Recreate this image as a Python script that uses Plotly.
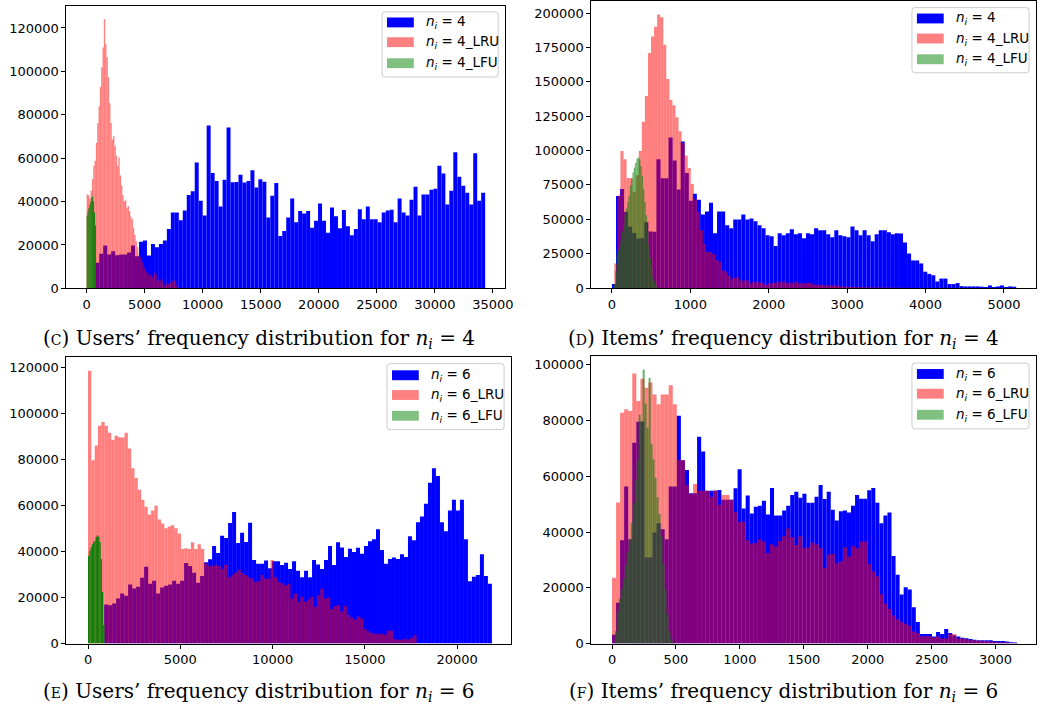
import numpy as np
import plotly.graph_objects as go

W, H = 1044, 719

# ---------------- (C) Users, n_i = 4 ----------------
c_user_range = [744, 34333]
c_user = [11800, 15900, 19800, 15600, 17100, 15300, 15600, 15600, 16500, 19800,
          14850, 21500, 22100, 15150, 20450, 18900, 20450, 22100, 27300, 35000,
          35000, 31400, 35900, 43000, 44700, 58000, 40400, 33600, 75000, 53200,
          49500, 37700, 50000, 74100, 48900, 49000, 52300, 48800, 49500, 54400,
          46500, 50300, 49100, 32700, 42700, 48600, 24100, 26400, 32700, 41400,
          30500, 35600, 34500, 35600, 27900, 31100, 39100, 31100, 25600, 37300,
          33200, 27700, 36100, 28600, 24500, 27300, 36500, 31800, 37700, 31800,
          31800, 30500, 35000, 35900, 36200, 30500, 41400, 35000, 33600, 40800,
          46800, 33600, 43200, 43200, 45500, 45900, 56500, 52900, 38600, 45000,
          62700, 51400, 47300, 44100, 38600, 62300, 40400, 44100]
c_lru_range = [0, 7870]
c_lru = [43200, 42900, 41400, 45100, 50400, 56500, 58800, 67100, 76200, 83800,
         92900, 101900, 111000, 124000, 112600, 106500, 97400, 85300, 76200, 68600,
         70200, 65600, 61100, 56500, 60300, 52000, 47400, 42900, 40200, 40600,
         37100, 38000, 35600, 33000, 32000, 27700, 24700, 21700, 19000, 15600,
         14400, 12800, 11800, 9500, 8000, 7700, 6500, 5700, 6500, 5000,
         5700, 7300, 6500, 4200, 3500, 4200, 2700, 3500, 1200, 1500,
         2400, 1800, 2700, 2400, 3300, 4200, 3500, 1800, 500]
c_lfu_range = [0, 800]
c_lfu = [33500, 35500, 37000, 38500, 40000, 41800, 42400, 40000, 35000, 29000]

# ---------------- (D) Items, n_i = 4 ----------------
d_item_range = [0, 5156]
d_item = [2900, 66900, 72100, 55400, 44700, 40000, 36000, 36300, 47800, 41100,
          41000, 93600, 79800, 79800, 109400, 92700, 71600, 106500, 83600, 63500,
          68500, 64200, 53500, 55600, 62100, 39900, 55600, 55600, 45600, 43500,
          49900, 49900, 53500, 49900, 50600, 48500, 45600, 43500, 38400, 37700,
          30600, 39900, 38400, 39900, 42800, 39200, 39900, 36300, 39900, 39200,
          43500, 42000, 42000, 39200, 37000, 42000, 38400, 37700, 37000, 44800,
          42000, 38400, 42000, 38400, 34100, 39200, 42000, 42000, 40600, 39200,
          39900, 39600, 33200, 25100, 20100, 20100, 17900, 11900, 10300, 9300,
          4800, 6900, 6900, 2900, 2900, 3600, 1400, 1200, 1200, 1200,
          1200, 1000, 800, 1900, 800, 1200, 1900, 800, 1200, 1000]
d_lru_range = [30, 3930]
d_lru = [17900, 67300, 99600, 93600, 80000, 80000, 70000, 82000, 99600, 121000,
         139700, 171000, 183000, 190000, 199000, 197000, 177000, 152000, 137000, 133000,
         124200, 114000, 105500, 96400, 87300, 75600, 64500, 55400, 42000, 32000,
         26300, 26300, 24800, 20600, 19100, 12700, 12000, 9100, 6700, 7700,
         7700, 5500, 5500, 5500, 3400, 4300, 4800, 4100, 4100, 2400,
         3400, 3400, 4100, 4100, 4500, 4800, 3400, 3800, 3800, 4800,
         3400, 3400, 3400, 4100, 3400, 2400, 2400, 2400, 1900, 1900,
         1900, 1900, 1900, 1500, 1000, 1000, 800, 700, 700, 600,
         600, 500, 500, 500, 400, 400, 400, 300, 300, 300,
         300, 200, 200, 200, 200, 150, 150, 100, 100, 100]
d_lfu_range = [25, 582]
d_lfu = [2900, 12400, 24400, 27900, 31500, 35100, 41100, 45800, 53000, 57800,
         62600, 67300, 74500, 79300, 84100, 87600, 91200, 94100, 95000, 93600,
         88800, 81700, 72100, 62600, 53000, 41100, 31500, 22000, 14800, 8800,
         5300, 2900, 1400]

# ---------------- (E) Users, n_i = 6 ----------------
e_user_range = [875, 21882]
e_user = [17000, 16600, 17400, 19600, 21700, 20800, 25600, 23900, 24700, 28600,
          33300, 26000, 27300, 21700, 24300, 25100, 25600, 27300, 26000, 27300,
          35000, 33700, 30700, 26400, 29300,
          35300, 36600, 42300, 39300, 46800, 45800, 52300, 57100, 43600, 48100,
          44100, 52400, 36300, 34600, 34600, 36000, 32700, 35700, 35700, 34100,
          35100, 32400, 35700, 31600, 28800, 31600, 28800, 36300, 34300, 32400,
          36300, 42300, 34100, 44000, 41700, 37600, 41100, 39700, 41600, 39000,
          42300, 44400, 45300, 49600, 40600, 34600, 36700, 37300, 36700, 38800,
          37600, 46600, 44800, 52600, 55100, 60700, 69800, 76100, 72700, 52600,
          48700, 57700, 62400, 57700, 62400, 45300, 27000, 29000, 29800, 38800,
          29300, 26000]
e_lru_range = [0, 17800]
e_lru = [118400, 79500, 86000, 94500, 96200, 94500, 91500, 88500, 90200, 89500,
         89400, 91500, 84700, 76100, 71800, 66700, 62400, 59400, 56000, 57700,
         59800, 53800, 52100, 50000, 50800, 51300, 50000, 47800, 41000, 41400,
         41000, 44000, 41000, 43100, 41000,
         34800, 33800, 33600, 34100, 33600, 32400, 34100, 28800, 29600, 30700,
         32000, 30700, 29800, 28800, 28100, 26700, 27100, 29800, 28100, 28100,
         36300, 28800, 26700, 26100, 25300, 26000, 19600, 21700, 18100, 20300,
         18100, 19100, 20300, 16000, 21000, 23800, 19600, 20000, 15000, 16300,
         16700, 13900, 16300, 12400, 11300, 10300, 11700, 11000, 6300, 5300,
         4600, 4300, 4300, 4300, 3900, 5600, 5600, 1900, 1700, 1700,
         2100, 1700, 2400, 3600]
e_lfu_range = [0, 890]
e_lfu = [38100, 40300, 41700, 43100, 44100, 44600, 46400, 47000, 46400, 44100,
         36700, 22400, 8100]

# ---------------- (F) Items, n_i = 6 ----------------
f_item_range = [0, 3168]
f_item = [3200, 14600, 37000, 56300, 37400, 72000, 79500, 79500, 30900, 30900,
          39800, 43100, 41000, 37400, 56300, 56300, 81700, 65700, 62200, 53900,
          53900, 74200, 68900, 54800, 54800, 54800, 55100, 51600, 51600, 51600,
          55700, 62500, 48400, 53100, 46600, 49100, 49400, 51200, 46300, 55800,
          45900, 45900, 47700, 49400, 53300, 54400, 52300, 53700, 50500, 50500,
          52600, 56900, 51800, 54400, 48000, 44100, 47400, 47700, 47000, 49400,
          53300, 51900, 51900, 55000, 55800, 50500, 43100, 45900, 47000, 31400,
          24700, 17600, 20200, 19400, 13000, 7700, 3400, 3400, 3400, 2500,
          4100, 3400, 5200, 3800, 3000, 2500, 2100, 1900, 1600, 1400,
          1200, 1200, 1200, 1200, 950, 950, 950, 700, 500, 400]
f_lru_range = [0, 3168]
f_lru = [23600, 50600, 82800, 84000, 83400, 96800, 87000, 95000, 91700, 93600,
         89300, 85800, 89300, 89300, 92600, 85800, 65700, 65700, 56900, 53700,
         57200, 54800, 54800, 54800, 52600, 55000, 49800, 53300, 53300, 51600,
         47200, 43700, 43700, 37000, 35900, 36100, 37400, 36600, 32400, 35600,
         34900, 36800, 38500, 41300, 38200, 35300, 38500, 34200, 34500, 36200,
         35600, 34200, 27100, 31900, 32100, 28800, 29500, 34500, 31200, 35000,
         34200, 36600, 36600, 28600, 25800, 24100, 17700, 14400, 12500, 10100,
         8700, 7800, 7100, 6400, 4300, 3800, 2600, 2600, 2600, 2200,
         2600, 1800, 1800, 3400, 3400, 1800, 1800, 1500, 1200, 1200,
         1000, 900, 800, 700, 600, 500, 500, 400, 300, 300]
f_lfu_range = [22, 488]
f_lfu = [4400, 11500, 16200, 19700, 23300, 28000, 32700, 37400, 43300, 50400,
         58700, 65700, 82000, 79900, 98300, 86000, 77500, 95200, 71600, 66000,
         59500, 52500, 46500, 38500, 28500, 19500, 10500, 4500, 1500, 400]

# tick values
c_xticks = [0, 5000, 10000, 15000, 20000, 25000, 30000, 35000]
c_yticks = [0, 20000, 40000, 60000, 80000, 100000, 120000]
d_xticks = [0, 1000, 2000, 3000, 4000, 5000]
d_yticks = [0, 25000, 50000, 75000, 100000, 125000, 150000, 175000, 200000]
e_xticks = [0, 5000, 10000, 15000, 20000]
e_yticks = [0, 20000, 40000, 60000, 80000, 100000, 120000]
f_xticks = [0, 500, 1000, 1500, 2000, 2500, 3000]
f_yticks = [0, 20000, 40000, 60000, 80000, 100000]

captions = [
    "(<span style='font-size:14px'>C</span>) Users\u2019 frequency distribution for <i>n<sub>i</sub></i> = 4",
    "(<span style='font-size:14px'>D</span>) Items\u2019 frequency distribution for <i>n<sub>i</sub></i> = 4",
    "(<span style='font-size:14px'>E</span>) Users\u2019 frequency distribution for <i>n<sub>i</sub></i> = 6",
    "(<span style='font-size:14px'>F</span>) Items\u2019 frequency distribution for <i>n<sub>i</sub></i> = 6",
]

# ---------------- layout helpers (pixels -> paper) ----------------
def fx(p):
    return p / W

def fy(p):
    return 1 - p / H

BLUE = "rgb(0,0,255)"
RED = "rgba(255,0,0,0.5)"
GREEN_T = "rgba(0,128,0,0.6)"
GREEN_S = "rgba(0,128,0,0.97)"

panels = [
    dict(n="", box=(67, 509, 5, 291), xr=(-1735, 36051), yr=(0, 130150),
         xt=c_xticks, yt=c_yticks, ni=4,
         series=[(c_user, c_user_range, BLUE), (c_lru, c_lru_range, RED), (c_lfu, c_lfu_range, GREEN_S)],
         leg=dict(box=(385, 502, 11, 77), px=390, tx=427, rows=(21.7, 41.7, 63)),
         cap=(261, 342)),
    dict(n="2", box=(596, 1044, 0.5, 290.7), xr=(-262, 5409), yr=(0, 208400),
         xt=d_xticks, yt=d_yticks, ni=4,
         series=[(d_item, d_item_range, BLUE), (d_lru, d_lru_range, RED), (d_lfu, d_lfu_range, GREEN_T)],
         leg=dict(box=(919, 1037, 6.7, 72.7), px=924, tx=961.7, rows=(17.7, 38, 59)),
         cap=(790, 342)),
    dict(n="3", box=(67, 515, 361, 650.7), xr=(-1167, 22919), yr=(0, 124150),
         xt=e_xticks, yt=e_yticks, ni=6,
         series=[(e_user, e_user_range, BLUE), (e_lru, e_lru_range, RED), (e_lfu, e_lfu_range, GREEN_S)],
         leg=dict(box=(390, 508, 367.3, 434), px=395, tx=432.7, rows=(379, 399, 420)),
         cap=(261, 700)),
    dict(n="4", box=(596, 1044, 360, 650.7), xr=(-161, 3316), yr=(0, 102940),
         xt=f_xticks, yt=f_yticks, ni=6,
         series=[(f_item, f_item_range, BLUE), (f_lru, f_lru_range, RED), (f_lfu, f_lfu_range, GREEN_T)],
         leg=dict(box=(919, 1037, 366.7, 433.3), px=924, tx=961.7, rows=(377.7, 397.7, 419)),
         cap=(790, 700)),
]

fig = go.Figure()
shapes, annotations = [], []
layout = dict(width=W, height=H, margin=dict(l=0, r=0, t=0, b=0),
              plot_bgcolor="white", paper_bgcolor="white", barmode="overlay",
              showlegend=False, font=dict(family="DejaVu Sans", color="black"))

def rounded_rect(x0, x1, y0, y1, r=3):
    # pixel coordinates -> paper path with rounded corners
    rx, ry = r / W, r / H
    X0, X1, Y0, Y1 = fx(x0), fx(x1), fy(y1), fy(y0)
    return (f"M{X0+rx},{Y0} L{X1-rx},{Y0} Q{X1},{Y0} {X1},{Y0+ry} "
            f"L{X1},{Y1-ry} Q{X1},{Y1} {X1-rx},{Y1} L{X0+rx},{Y1} "
            f"Q{X0},{Y1} {X0},{Y1-ry} L{X0},{Y0+ry} Q{X0},{Y0} {X0+rx},{Y0} Z")

legend_colors = ["rgb(0,0,255)", "rgb(255,128,128)", "rgb(128,192,128)"]

for i, p in enumerate(panels):
    xa, ya = "x" + p["n"], "y" + p["n"]
    x0, x1, y0, y1 = p["box"]
    ax_common = dict(showline=True, linecolor="black", linewidth=1, mirror=True,
                     ticks="outside", ticklen=4, tickwidth=1, tickcolor="black",
                     showgrid=False, zeroline=False, tickformat="d",
                     tickfont=dict(family="DejaVu Sans", size=13, color="black"))
    layout["xaxis" + p["n"]] = dict(ax_common, domain=[fx(x0), fx(x1)], range=list(p["xr"]),
                                   tickvals=p["xt"], anchor=ya)
    layout["yaxis" + p["n"]] = dict(ax_common, domain=[fy(y1), fy(y0)], range=list(p["yr"]),
                                   tickvals=p["yt"], anchor=xa)
    for vals, rng, col in p["series"]:
        v = np.asarray(vals, dtype=float)
        edges = np.linspace(rng[0], rng[1], len(v) + 1)
        centers = 0.5 * (edges[:-1] + edges[1:])
        fig.add_trace(go.Bar(x=centers, y=v, width=float(edges[1] - edges[0]),
                             marker=dict(color=col, line=dict(width=0)),
                             xaxis=xa, yaxis=ya, hoverinfo="skip", showlegend=False))
    # legend box
    L = p["leg"]
    bx0, bx1, by0, by1 = L["box"]
    shapes.append(dict(type="path", xref="paper", yref="paper",
                       path=rounded_rect(bx0, bx1, by0, by1),
                       fillcolor="rgba(255,255,255,0.8)", line=dict(color="rgb(204,204,204)", width=1)))
    labels = [f"<i>n<sub>i</sub></i> = {p['ni']}",
              f"<i>n<sub>i</sub></i> = {p['ni']}_LRU",
              f"<i>n<sub>i</sub></i> = {p['ni']}_LFU"]
    for r, lab, lc in zip(L["rows"], labels, legend_colors):
        shapes.append(dict(type="rect", xref="paper", yref="paper",
                           x0=fx(L["px"]), x1=fx(L["px"] + 27), y0=fy(r + 5), y1=fy(r - 5),
                           fillcolor=lc, line=dict(width=0)))
        annotations.append(dict(xref="paper", yref="paper", x=fx(L["tx"]), y=fy(r),
                                xanchor="left", yanchor="middle", showarrow=False, text=lab,
                                font=dict(family="DejaVu Sans", size=13.5, color="black")))
    cx, cy = p["cap"]
    annotations.append(dict(xref="paper", yref="paper", x=fx(cx), y=fy(cy),
                            xanchor="center", yanchor="middle", showarrow=False,
                            text=captions[i],
                            font=dict(family="DejaVu Serif", size=20, color="black")))

layout["shapes"] = shapes
layout["annotations"] = annotations
fig.update_layout(**layout)
fig.write_html("out.html", config={"displayModeBar": False, "staticPlot": True},
               post_script="document.body.style.margin='0px';document.body.style.overflow='hidden';")
